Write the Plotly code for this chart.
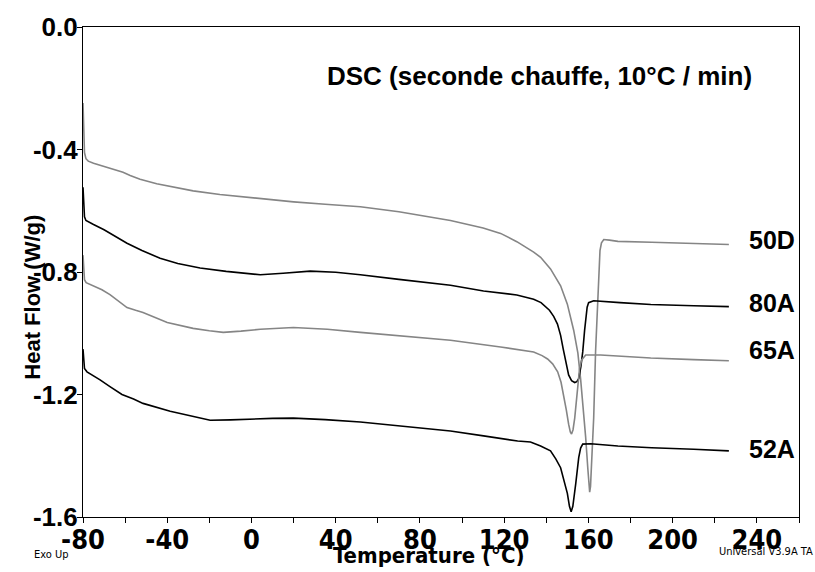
import plotly.graph_objects as go

# ---- data (Temperature °C, Heat Flow W/g) ----
t_50D = [-80, -79.7, -79.3, -78.6, -77.5, -75, -70, -65, -61, -57.6, -52.9, -45, -35, -27.7, -15, 3.9, 20, 35, 51.7, 70,
         94.5, 110, 118.3, 126, 134, 137.3, 142, 146.8, 150, 153, 155, 156.3, 157.6, 158.7, 159.7, 160.3, 160.6, 161.0,
         161.6, 162.5, 163.4, 164.2, 164.9, 165.5, 166.2, 167.3, 170, 174, 190, 210, 226.7]
hf_50D = [-0.248, -0.34, -0.41, -0.43, -0.438, -0.445, -0.456, -0.465, -0.474, -0.485, -0.497, -0.512, -0.526, -0.535,
          -0.547, -0.561, -0.571, -0.579, -0.587, -0.603, -0.632, -0.656, -0.674, -0.701, -0.735, -0.752, -0.79, -0.845,
          -0.905, -0.99, -1.065, -1.15, -1.25, -1.34, -1.44, -1.50, -1.519, -1.50, -1.42, -1.277, -1.06, -0.92, -0.80,
          -0.73, -0.705, -0.694, -0.696, -0.70, -0.703, -0.707, -0.71]

t_80A = [-80, -79.7, -79.3, -78.6, -77.6, -75, -70, -67.2, -63, -59.1, -52, -43.4, -35, -24.4, -12, 4.2, 15, 27.9, 40,
         51.7, 70, 94.5, 110.2, 118.3, 126, 134, 137.5, 141.5, 143.5, 145.3, 146.8, 148, 149.2, 150.6, 152, 153.5, 154.5,
         155.4, 156.4, 157.3, 158.2, 158.7, 159.4, 160.1, 162.5, 175, 189.6, 210, 226.7]
hf_80A = [-0.523, -0.57, -0.62, -0.632, -0.636, -0.645, -0.662, -0.674, -0.69, -0.706, -0.73, -0.755, -0.772, -0.787,
          -0.798, -0.809, -0.804, -0.797, -0.801, -0.809, -0.824, -0.843, -0.862, -0.868, -0.875, -0.889, -0.9, -0.925,
          -0.945, -0.97, -1.007, -1.05, -1.094, -1.136, -1.155, -1.161, -1.158, -1.148, -1.11, -1.061, -0.99, -0.955,
          -0.915, -0.9, -0.894, -0.9, -0.906, -0.91, -0.913]

t_65A = [-80, -79.7, -79.3, -78.5, -75.2, -71, -67.2, -63, -59.1, -55, -51.5, -40, -27.7, -20, -13.4, -5, 4.2, 19.9, 36,
         51.7, 70, 94.5, 118.3, 134, 138, 140.6, 143, 145.4, 147, 148.2, 149.5, 150.6, 151.4, 152, 152.7, 153.5, 154.2,
         154.9, 155.8, 156.8, 158.7, 165.8, 189.6, 210, 226.7]
hf_65A = [-0.745, -0.79, -0.825, -0.835, -0.845, -0.858, -0.874, -0.895, -0.916, -0.925, -0.932, -0.965, -0.984, -0.992,
          -0.997, -0.993, -0.987, -0.981, -0.987, -0.997, -1.008, -1.023, -1.045, -1.061, -1.073, -1.084, -1.1, -1.126,
          -1.16, -1.2, -1.25, -1.297, -1.322, -1.329, -1.315, -1.277, -1.22, -1.168, -1.115, -1.087, -1.071, -1.071,
          -1.081, -1.086, -1.09]

t_52A = [-80, -79.7, -79.3, -78.1, -75, -71.9, -67.2, -64, -61.5, -56, -51.5, -38.6, -28, -19.6, -10, -3.9, 10, 19.9, 35,
         51.7, 70, 94.5, 110.2, 126.4, 132.5, 137.3, 142, 144.5, 146.8, 148.5, 150, 151, 151.8, 152.6, 153.3, 154, 155.4,
         156.3, 157.3, 161.1, 174, 190, 210, 226.7]
hf_52A = [-1.052, -1.09, -1.115, -1.126, -1.138, -1.152, -1.174, -1.19, -1.2, -1.215, -1.229, -1.255, -1.272, -1.284,
          -1.283, -1.281, -1.278, -1.277, -1.282, -1.29, -1.303, -1.319, -1.335, -1.352, -1.355, -1.368, -1.384, -1.41,
          -1.439, -1.48, -1.523, -1.565, -1.583, -1.565, -1.53, -1.49, -1.406, -1.375, -1.362, -1.361, -1.368, -1.374,
          -1.379, -1.384]

series_names = ["50D", "80A", "65A", "52A"]
series_t = [t_50D, t_80A, t_65A, t_52A]
series_hf = [hf_50D, hf_80A, hf_65A, hf_52A]
series_colors = ["#858585", "#000000", "#858585", "#000000"]
label_y = [-0.697, -0.90, -1.055, -1.377]

x_ticks = [-80, -40, 0, 40, 80, 120, 160, 200, 240]
y_ticks = [0.0, -0.4, -0.8, -1.2, -1.6]
y_ticktext = ["0.0", "-0.4", "-0.8", "-1.2", "-1.6"]

NARROW = "Liberation Sans Narrow, DejaVu Sans Condensed, Roboto Condensed, Liberation Sans, sans-serif"
SANS = "Liberation Sans, Arial, sans-serif"

fig = go.Figure()
for name, t, hf, c in zip(series_names, series_t, series_hf, series_colors):
    fig.add_trace(go.Scatter(x=t, y=hf, mode="lines", name=name,
                             line=dict(color=c, width=1.6), showlegend=False))

for name, yv in zip(series_names, label_y):
    fig.add_annotation(x=235.3, y=yv, xref="x", yref="y", text=name, showarrow=False,
                       xanchor="left", yanchor="middle",
                       font=dict(family=SANS, size=25, color="black", weight="bold"))

fig.add_annotation(x=0.638, y=0.901, xref="paper", yref="paper",
                   text="DSC (seconde chauffe, 10°C / min)", showarrow=False,
                   xanchor="center", yanchor="middle",
                   font=dict(family=SANS, size=26, color="black", weight="bold"))

fig.add_annotation(x=-0.0698, y=0.4476, xref="paper", yref="paper", text="Heat Flow (W/g)",
                   showarrow=False, textangle=-90, xanchor="center", yanchor="middle",
                   font=dict(family=SANS, size=22, color="black", weight="bold"))

fig.add_annotation(x=0.483, y=-0.078, xref="paper", yref="paper", text="Temperature (°C)",
                   showarrow=False, xanchor="center", yanchor="middle",
                   font=dict(family=NARROW, size=22, color="black", weight="bold"))

fig.add_annotation(x=-0.0712, y=-0.0766, xref="paper", yref="paper", text="Exo Up",
                   showarrow=False, xanchor="left", yanchor="middle",
                   font=dict(family=NARROW, size=11, color="black"))

fig.add_annotation(x=0.885, y=-0.0706, xref="paper", yref="paper", text="Universal V3.9A TA",
                   showarrow=False, xanchor="left", yanchor="middle",
                   font=dict(family=NARROW, size=11, color="black"))

fig.update_layout(
    width=815, height=572,
    margin=dict(l=83, r=16, t=21, b=55),
    paper_bgcolor="white", plot_bgcolor="white",
    xaxis=dict(range=[-80, 260], tickvals=x_ticks, ticktext=[str(v) for v in x_ticks],
               showgrid=False, zeroline=False, showline=True, linecolor="black", linewidth=1.2,
               mirror=True, ticks="outside", ticklen=5, tickcolor="black", tickwidth=1,
               ticklabelstandoff=-7,
               minor=dict(dtick=20, tick0=-80, ticks="outside", ticklen=5, tickcolor="black", showgrid=False),
               tickfont=dict(family=NARROW, size=27, color="black", weight="bold")),
    yaxis=dict(range=[-1.6, 0], tickvals=y_ticks, ticktext=y_ticktext,
               showgrid=False, zeroline=False, showline=True, linecolor="black", linewidth=1.2,
               mirror=True, ticks="outside", ticklen=5, tickcolor="black", tickwidth=1,
               ticklabelstandoff=-6,
               tickfont=dict(family=SANS, size=26, color="black", weight="bold")),
)

fig.write_html("out.html")
